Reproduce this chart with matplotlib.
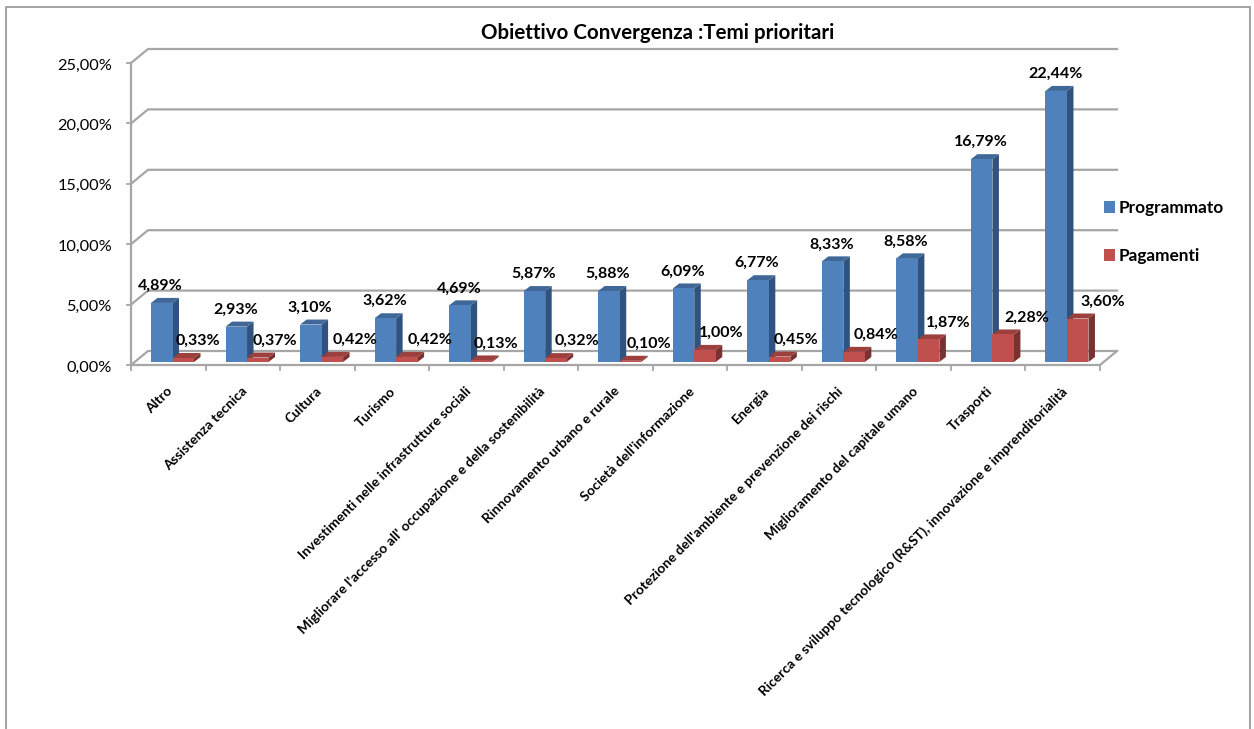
import matplotlib
matplotlib.use('Agg')
import matplotlib.pyplot as plt
from matplotlib.patches import Polygon, Patch
from matplotlib.lines import Line2D

plt.rcParams['font.family'] = ['Lato', 'DejaVu Sans']

categories = ['Altro', 'Assistenza tecnica', 'Cultura', 'Turismo',
              'Investimenti nelle infrastrutture sociali',
              "Migliorare l'accesso all' occupazione e della sostenibilità",
              'Rinnovamento urbano e rurale', "Società dell'informazione", 'Energia',
              "Protezione dell'ambiente e prevenzione dei rischi",
              'Miglioramento del capitale umano', 'Trasporti',
              'Ricerca e sviluppo tecnologico (R&ST), innovazione e imprenditorialità']
programmato = [4.89, 2.93, 3.10, 3.62, 4.69, 5.87, 5.88, 6.09, 6.77, 8.33, 8.58, 16.79, 22.44]
pagamenti = [0.33, 0.37, 0.42, 0.42, 0.13, 0.32, 0.10, 1.00, 0.45, 0.84, 1.87, 2.28, 3.60]
yticks = [0, 5, 10, 15, 20, 25]

# the excel labels of the red bars are pushed right by hand, by a different amount each
red_label_shift = [15, 17.5, 23, 23.5, 15, 21.5, 18, 16.5, 16, 21.5, 20, 23.5, 25]

W, H = 1254, 729
fig = plt.figure(figsize=(W / 100, H / 100), dpi=100)

# axes = front plane of the fake 3d box
L, R, T, B = 131, 1100, 63, 365
ax = fig.add_axes([L / W, 1 - B / H, (R - L) / W, (B - T) / H])
ax.set_xlim(0, len(categories))
ax.set_ylim(0, 25)
ax.axis('off')

# pixels to data units
px = len(categories) / (R - L)
py = 25 / (B - T)


def pct(v):
    return f'{v:.2f}%'.replace('.', ',')


grid = '#a6a6a6'
box_dx, box_dy = 17 * px, 14 * py
n = len(categories)

# walls and floor
for y in yticks:
    ax.plot([0, box_dx, n + box_dx], [y, y + box_dy, y + box_dy], color=grid, lw=1.6, clip_on=False, zorder=1)
    ax.plot([-4 * px, 0], [y, y], color=grid, lw=1.3, clip_on=False, zorder=1)
ax.plot([0, 0], [0, 25], color=grid, lw=1.6, clip_on=False, zorder=1)
ax.plot([0, n, n + box_dx], [0, 0, box_dy], color=grid, lw=1.6, clip_on=False, zorder=1)
for i in range(n + 1):
    ax.plot([i, i], [0, -5 * py], color=grid, lw=1.3, clip_on=False, zorder=1)

base = 3 * py


def bar3d(x0, width, value, front, top, side, z):
    d_x, d_y = 6.5 * px, 5 * py
    h = base + value
    ax.add_patch(Polygon([(x0 + width, base), (x0 + width + d_x, base + d_y),
                          (x0 + width + d_x, h + d_y), (x0 + width, h)],
                         fc=side, ec='none', clip_on=False, zorder=z))
    ax.add_patch(Polygon([(x0, h), (x0 + d_x, h + d_y), (x0 + width + d_x, h + d_y), (x0 + width, h)],
                         fc=top, ec='none', clip_on=False, zorder=z))
    ax.add_patch(Polygon([(x0, base), (x0 + width, base), (x0 + width, h), (x0, h)],
                         fc=front, ec='none', clip_on=False, zorder=z))


bar_w = 21.5 * px
start = 20 * px
for i in range(n):
    x_blue = i + start
    x_red = x_blue + bar_w
    bar3d(x_blue, bar_w, programmato[i], '#4f81bd', '#3f6797', '#2f527f', 3)
    bar3d(x_red, bar_w, pagamenti[i], '#c0504d', '#9c3f3d', '#7a3230', 4)
    ax.text(x_blue + bar_w / 2 - 1 * px, programmato[i] + base + 17 * py, pct(programmato[i]),
            ha='center', va='center', fontsize=11.5, fontweight='bold', color='black', zorder=6, clip_on=False)
    ax.text(x_red + bar_w / 2 + red_label_shift[i] * px, pagamenti[i] + base + 17 * py, pct(pagamenti[i]),
            ha='center', va='center', fontsize=11.5, fontweight='bold', color='black', zorder=6, clip_on=False)

for y in yticks:
    ax.text(-19 * px, y - 2.5 * py, pct(y), ha='right', va='center', fontsize=11.8, color='black', clip_on=False)

for i, name in enumerate(categories):
    ax.text(i + 0.5 - 2 * px, -20 * py, name, rotation=45, rotation_mode='anchor', ha='right', va='top',
            fontsize=9.9, fontweight='bold', color='black', clip_on=False)

ax.set_title('Obiettivo Convergenza :Temi prioritari', fontsize=14.8, fontweight='bold', x=(658 - L) / (R - L), y=1.0, pad=17)

handles = [Patch(fc='#4f81bd', ec='none', label='Programmato'), Patch(fc='#c0504d', ec='none', label='Pagamenti')]
fig.legend(handles=handles, loc='center left', bbox_to_anchor=(1095 / W, 1 - 232 / H), frameon=False,
           prop={'size': 12.4, 'weight': 'bold'}, handlelength=0.65, handleheight=0.75, handletextpad=0.2,
           labelspacing=1.85, borderpad=0, borderaxespad=0.5)

# chart frame, runs off the bottom of the picture
fig.add_artist(Line2D([6 / W, 6 / W, 1250 / W, 1250 / W], [0, 1 - 7 / H, 1 - 7 / H, 0], color='#a6a6a6', lw=1.5))

fig.savefig('out.png', dpi=100)
